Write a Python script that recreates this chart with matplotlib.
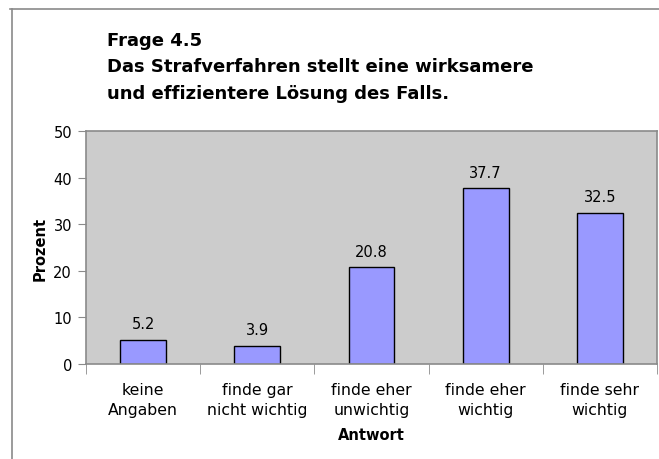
import matplotlib
matplotlib.use("Agg")
from matplotlib import pyplot as plt
import numpy as np

antworten = ["keine\nAngaben", "finde gar\nnicht wichtig", "finde eher\nunwichtig",
             "finde eher\nwichtig", "finde sehr\nwichtig"]
prozent = [5.2, 3.9, 20.8, 37.7, 32.5]
y_ticks = [0, 10, 20, 30, 40, 50]

titel = "Frage 4.5\nDas Strafverfahren stellt eine wirksamere\nund effizientere Lösung des Falls."


def main():
    fig = plt.figure(figsize=(6.59, 4.6), dpi=100)
    fig.patch.set_facecolor("white")

    # outer frame
    fig.add_artist(plt.Line2D([10 / 659, 1.0], [1 - 10 / 460, 1 - 10 / 460],
                              transform=fig.transFigure, color="#8a8a8a", lw=1.2))
    fig.add_artist(plt.Line2D([12 / 659, 12 / 659], [0, 1 - 10 / 460],
                              transform=fig.transFigure, color="#8a8a8a", lw=1.2))

    ax = fig.add_axes([86 / 659, 1 - 365 / 460, 571 / 659, 233 / 460])
    ax.set_facecolor("#cccccc")

    x = np.arange(len(prozent))
    bars = ax.bar(x, prozent, width=0.4, color="#9999ff", edgecolor="black", linewidth=1.0)
    for b, v in zip(bars, prozent):
        ax.text(b.get_x() + b.get_width() / 2, v + 1.8, str(v), ha="center", va="bottom",
                fontsize=10.5)

    ax.set_xlim(-0.5, len(prozent) - 0.5)
    ax.set_ylim(0, 50)
    ax.set_yticks(y_ticks)
    ax.set_yticklabels([str(t) for t in y_ticks], fontsize=10.5)
    ax.set_xticks(x)
    ax.set_xticklabels(antworten, fontsize=11.3, linespacing=1.45)
    ax.tick_params(axis="x", length=0, pad=13)
    ax.set_xticks(np.arange(-0.5, len(prozent)), minor=True)
    ax.tick_params(axis="x", which="minor", length=7, color="#8a8a8a", direction="out")
    ax.tick_params(axis="y", length=6, color="#8a8a8a", direction="out", pad=4)

    for s in ax.spines.values():
        s.set_color("#8a8a8a")
        s.set_linewidth(1.2)

    ax.set_ylabel("Prozent", fontsize=10.5, fontweight="bold", labelpad=4)
    ax.set_xlabel("Antwort", fontsize=10.5, fontweight="bold", labelpad=7)

    fig.text(107 / 659, 1 - 32 / 460, titel, fontsize=13, fontweight="bold",
             va="top", ha="left", linespacing=1.6)

    fig.savefig("out.png", dpi=100)


if __name__ == '__main__':
    main()
